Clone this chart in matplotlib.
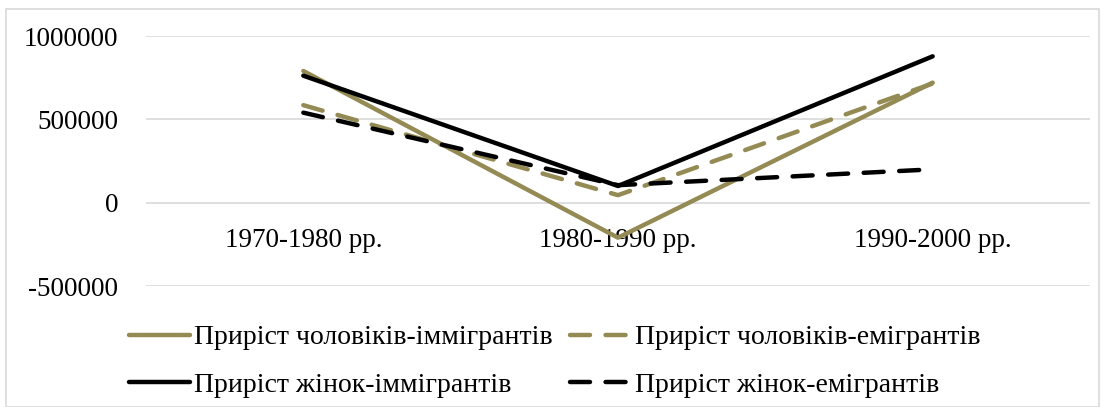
import matplotlib.pyplot as plt
from matplotlib.patches import Rectangle

periods = ["1970-1980 рр.", "1980-1990 рр.", "1990-2000 рр."]
men_imm = [790000, -210000, 720000]
men_emi = [585000, 45000, 715000]
women_imm = [762000, 100000, 878000]
women_emi = [540000, 105000, 200000]

plt.rcParams['font.family'] = ['Liberation Serif', 'DejaVu Serif']
olive = "#948A54"

fig = plt.figure(figsize=(11.05, 4.07), dpi=100)
ax = fig.add_axes([146/1105, 1-286/407, (1090-146)/1105, (286-36)/407])

x = range(len(periods))
lw = 3.2
l1, = ax.plot(x, men_imm, color=olive, lw=lw, solid_capstyle='round', label="Приріст чоловіків-іммігрантів")
l2, = ax.plot(x, men_emi, color=olive, lw=lw, dashes=(4.5, 3.5), dash_capstyle='round', label="Приріст чоловіків-емігрантів")
l3, = ax.plot(x, women_imm, color="black", lw=lw, solid_capstyle='round', label="Приріст жінок-іммігрантів")
l4, = ax.plot(x, women_emi, color="black", lw=lw, dashes=(4.5, 3.5), dash_capstyle='round', label="Приріст жінок-емігрантів")

ax.set_xlim(-0.5, 2.5)
ax.set_ylim(-500000, 1000000)
ax.set_yticks([-500000, 0, 500000, 1000000])
ax.set_yticklabels(["-500000", "0", "500000", "1000000"])
ax.grid(axis='y', color="#d9d9d9", lw=1.2)
ax.set_axisbelow(True)
for s in ['top', 'right', 'left']:
    ax.spines[s].set_visible(False)
ax.spines['bottom'].set_position(('data', 0))
ax.spines['bottom'].set_visible(False)
ax.set_xticks(list(x))
ax.set_xticklabels(periods)
ax.tick_params(axis='x', length=0, pad=18, labelsize=19.5)
ax.tick_params(axis='y', length=0, pad=20, labelsize=19.5)

# row-wise order like the original: men on first row, women on second
handles = [l1, l3, l2, l4]
fig.legend(handles, [h.get_label() for h in handles], loc='upper left',
           bbox_to_anchor=(129/1105, 1-325/407), ncol=2, frameon=False,
           fontsize=20, handlelength=2.2, handletextpad=0.15, columnspacing=0.6,
           labelspacing=0.8, borderaxespad=0, borderpad=0)

fig.patches.append(Rectangle((6/1105, 0), 1-12/1105, 1-9/407, transform=fig.transFigure,
                             fill=False, edgecolor="#d9d9d9", lw=1.2))

fig.savefig("out.png", dpi=100)
